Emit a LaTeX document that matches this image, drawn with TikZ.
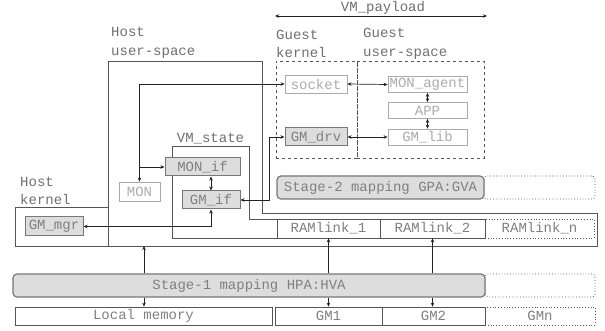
\documentclass[tikz,border=0pt]{standalone}
\usepackage{fontspec}
\setmonofont{Liberation Mono}
\usetikzlibrary{arrows.meta}
\definecolor{lbl}{HTML}{707070}
\definecolor{outl}{HTML}{555555}
\definecolor{fboxd}{HTML}{777777}
\definecolor{fboxf}{HTML}{DDDDDD}
\definecolor{fboxt}{HTML}{808080}
\definecolor{lboxd}{HTML}{AAAAAA}
\definecolor{lboxt}{HTML}{ABABAB}
\definecolor{arr}{HTML}{222222}
\tikzset{
  fbox/.style={draw=fboxd, fill=fboxf, text=fboxt, line width=1pt, inner sep=0pt, minimum height=18pt},
  lbox/.style={draw=lboxd, text=lboxt, line width=0.8pt, inner sep=0pt, minimum height=16pt},
  plainbox/.style={draw=outl, text=fboxt, line width=0.8pt, inner sep=0pt},
  dotbox/.style={draw=outl, text=fboxt, dotted, line width=0.8pt, inner sep=0pt},
  dashbox/.style={draw=outl, dashed, line width=0.8pt, inner sep=0pt},
  stagebox/.style={fbox, rounded corners=4pt, line width=1.2pt, minimum height=23pt},
  lab/.style={text=lbl, align=left, inner sep=0pt, anchor=west},
  con/.style={draw=arr, line width=0.7pt, -{Stealth[length=4pt,width=3.5pt]}},
  bicon/.style={draw=arr, line width=0.7pt, {Stealth[length=4pt,width=3.5pt]}-{Stealth[length=4pt,width=3.5pt]}},
  outline/.style={draw=outl, line width=0.8pt}
}
\begin{document}
\begin{tikzpicture}[x=1pt,y=-1pt, font=\ttfamily\fontsize{14}{18.5}\selectfont]
\useasboundingbox[fill=white] (0,0) rectangle (605,331);

% host user-space outline
\draw[outline] (108,61) -- (262,61) -- (262,213) -- (597,213) -- (597,246) -- (108,246) -- cycle;
% VM_state outline
\draw[outline] (172,146) -- (249,146) -- (249,219) -- (485,219) -- (485,238) -- (172,238) -- cycle;
% host kernel
\node[plainbox, minimum width=93pt, minimum height=39pt] (hostk) at (61.5,226.5) {};

% labels
\node[lab] (lhu) at (111,43) {Host\\user-space};
\node[lab] (lgk) at (276,44) {Guest\\kernel};
\node[lab] (lgu) at (363,44) {Guest\\user-space};
\node[lab] (lhk) at (20,191) {Host\\kernel};
\node[text=lbl, inner sep=0pt] (lvs) at (210.5,139) {VM\_state};
\node[text=lbl, inner sep=0pt] (lvp) at (383,7.5) {VM\_payload};
\coordinate (vpl) at (275,16);
\coordinate (vpr) at (487,16);
\draw[bicon] (vpl) -- (vpr);

% guest dashed boxes
\node[dashbox, minimum width=81pt, minimum height=97pt] (gk) at (316.5,109.5) {};
\node[dashbox, minimum width=127pt, minimum height=97pt] (gu) at (420.5,109.5) {};

% guest nodes
\node[lbox, minimum width=62pt, minimum height=18pt] (socket) at (316,84) {socket};
\node[fbox, minimum width=62pt] (gmdrv) at (316,137) {GM\_drv};
\node[lbox, minimum width=79pt] (monag) at (427.5,84.5) {MON\_agent};
\node[lbox, minimum width=79pt] (app) at (427.5,110.5) {APP};
\node[lbox, minimum width=79pt] (gmlib) at (427.5,137) {GM\_lib};

% host nodes
\node[fbox, minimum width=75pt] (monif) at (202.5,167) {MON\_if};
\node[fbox, minimum width=58pt] (gmif) at (211,200) {GM\_if};
\node[lbox, minimum width=41pt, minimum height=19pt] (mon) at (139.5,191.5) {MON};
\node[fbox, minimum width=58pt, minimum height=19pt] (gmmgr) at (54,226.5) {GM\_mgr};

% stage 2
\node[dotbox, rounded corners=3pt, minimum width=111pt, minimum height=23pt] (s2x) at (539.5,187.5) {};
\node[stagebox, minimum width=207pt] (stage2) at (380.5,187.5) {Stage-2 mapping GPA:GVA};

% RAMlinks
\node[plainbox, minimum width=103pt, minimum height=19pt] (ram1) at (328.5,228.5) {RAMlink\_1};
\node[plainbox, minimum width=105pt, minimum height=19pt] (ram2) at (432.5,228.5) {RAMlink\_2};
\node[dotbox, minimum width=109pt, minimum height=19pt] (ramn) at (539.5,228.5) {RAMlink\_n};

% stage 1
\node[dotbox, rounded corners=3pt, minimum width=110pt, minimum height=23pt] (s1x) at (540,285.5) {};
\node[stagebox, minimum width=472pt] (stage1) at (249,285.5) {Stage-1 mapping HPA:HVA};

% memories
\node[plainbox, minimum width=257pt, minimum height=18pt] (locmem) at (143.5,316) {Local memory};
\node[plainbox, minimum width=107pt, minimum height=18pt] (gm1) at (328.5,316) {GM1};
\node[plainbox, minimum width=103pt, minimum height=18pt] (gm2) at (433.5,316) {GM2};
\node[dotbox, minimum width=110pt, minimum height=18pt] (gmn) at (540,316) {GMn};

% connectors
\draw[bicon] (mon.north) |- (socket.west);
\draw[con] (mon.north |- monif.west) -- (monif.west);
\coordinate (jd) at (269,137);
\draw[bicon] (gmdrv.west) -- (jd) |- (gmif.east);
\draw[bicon] (gmmgr.east) -| (gmif.south);
\draw[bicon] (gmif.north) -- (gmif.north |- monif.south);
\draw[bicon] (socket.east) -- (monag.west);
\draw[bicon] (gmdrv.east) -- (gmlib.west);
\draw[bicon] (monag.south) -- (app.north);
\draw[bicon] (app.south) -- (gmlib.north);

\coordinate (hb) at (144,246);
\draw[con] (hb |- stage1.north) -- (hb);
\draw[con] (hb |- stage1.south) -- (hb |- locmem.north);
\draw[con] (ram1.south |- stage1.north) -- (ram1.south);
\draw[con] (ram1.south |- stage1.south) -- (ram1.south |- gm1.north);
\draw[con] (ram2.south |- stage1.north) -- (ram2.south);
\draw[con] (ram2.south |- stage1.south) -- (ram2.south |- gm2.north);
\end{tikzpicture}
\end{document}
